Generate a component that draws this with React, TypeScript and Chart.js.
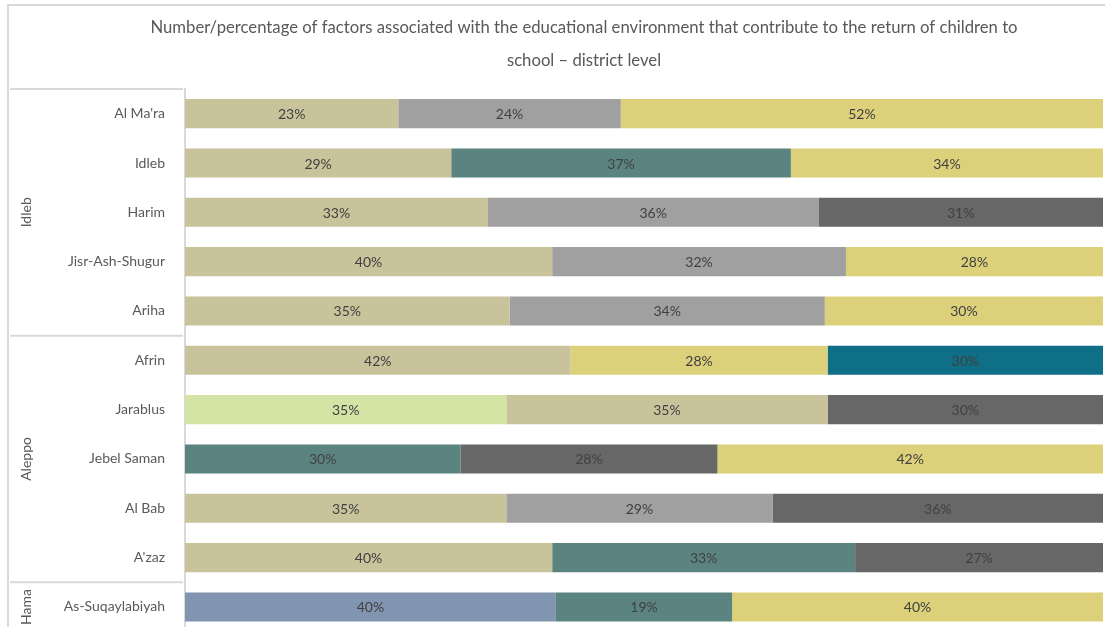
import React, { useEffect, useRef } from "react";
import { Chart, registerables } from "chart.js";

Chart.register(...registerables);

const titleLines = [
  "Number/percentage of factors associated with the educational environment that contribute to the return of children to",
  "school – district level",
];

const districts = [
  "Al Ma'ra",
  "Idleb",
  "Harim",
  "Jisr-Ash-Shugur",
  "Ariha",
  "Afrin",
  "Jarablus",
  "Jebel Saman",
  "Al Bab",
  "A'zaz",
  "As-Suqaylabiyah",
];

const governorates = ["Idleb", "Aleppo", "Hama"];
const governorateSizes = [5, 5, 1];

const seriesNames = [
  "Factor 1",
  "Factor 2",
  "Factor 3",
  "Factor 4",
  "Factor 5",
  "Factor 6",
  "Factor 7",
  "Factor 8",
];
const seriesColors = [
  "#D4E4A5",
  "#8195B0",
  "#C8C39B",
  "#A0A0A0",
  "#5B8480",
  "#676767",
  "#DCD07A",
  "#0F6F86",
];

const s1 = [null, null, null, null, null, null, 35, null, null, null, null];
const s2 = [null, null, null, null, null, null, null, null, null, null, 40];
const s3 = [23, 29, 33, 40, 35, 42, 35, null, 35, 40, null];
const s4 = [24, null, 36, 32, 34, null, null, null, 29, null, null];
const s5 = [null, 37, null, null, null, null, null, 30, null, 33, 19];
const s6 = [null, null, 31, null, null, null, 30, 28, 36, 27, null];
const s7 = [52, 34, null, 28, 30, 28, null, 42, null, null, 40];
const s8 = [null, null, null, null, null, 30, null, null, null, null, null];

const seriesValues: (number | null)[][] = [s1, s2, s3, s4, s5, s6, s7, s8];

const FONT = "Lato, 'Open Sans', sans-serif";
const TEXT = "#595959";
const LINE = "#D9D9D9";

const rowSums = districts.map((_, i) =>
  seriesValues.reduce((a, s) => a + (s[i] ?? 0), 0)
);

const decorPlugin = {
  id: "decor",
  beforeDraw(chart: any) {
    const ctx = chart.ctx as CanvasRenderingContext2D;
    const area = chart.chartArea;
    const yScale = chart.scales.y;
    ctx.save();
    // outer frame
    ctx.strokeStyle = LINE;
    ctx.lineWidth = 2;
    ctx.beginPath();
    ctx.moveTo(8, chart.height + 10);
    ctx.lineTo(8, 5);
    ctx.lineTo(chart.width + 10, 5);
    ctx.stroke();
    // title
    ctx.fillStyle = TEXT;
    ctx.font = `16.7px ${FONT}`;
    ctx.textAlign = "center";
    ctx.textBaseline = "middle";
    ctx.fillText(titleLines[0], 584, 28);
    ctx.fillText(titleLines[1], 584, 61);
    // group lines and labels
    const band = yScale.getPixelForValue(1) - yScale.getPixelForValue(0);
    let start = 0;
    governorates.forEach((g, gi) => {
      const n = governorateSizes[gi];
      const top = yScale.getPixelForValue(start) - band / 2;
      const bottom = yScale.getPixelForValue(start + n - 1) + band / 2;
      ctx.strokeStyle = LINE;
      ctx.lineWidth = 2;
      ctx.beginPath();
      ctx.moveTo(10, top);
      ctx.lineTo(area.left - 2, top);
      ctx.stroke();
      ctx.save();
      ctx.translate(26, (top + Math.min(bottom, chart.height + 40)) / 2);
      ctx.rotate(-Math.PI / 2);
      ctx.fillStyle = TEXT;
      ctx.font = `14px ${FONT}`;
      ctx.textAlign = "center";
      ctx.textBaseline = "middle";
      ctx.fillText(g, 0, 0);
      ctx.restore();
      start += n;
    });
    ctx.restore();
  },
  afterDatasetsDraw(chart: any) {
    const ctx = chart.ctx as CanvasRenderingContext2D;
    ctx.save();
    ctx.font = `14px ${FONT}`;
    ctx.fillStyle = "#404040";
    ctx.textAlign = "center";
    ctx.textBaseline = "middle";
    chart.data.datasets.forEach((ds: any, di: number) => {
      const meta = chart.getDatasetMeta(di);
      meta.data.forEach((bar: any, i: number) => {
        const v = seriesValues[di][i];
        if (v == null) return;
        const { x, base, y } = bar.getProps(["x", "base", "y"], true);
        ctx.fillText(`${v}%`, (x + base) / 2, y + 1);
      });
    });
    ctx.restore();
  },
};

export default function App() {
  const ref = useRef<HTMLCanvasElement>(null);
  useEffect(() => {
    if (!ref.current) return;
    const chart = new Chart(ref.current, {
      type: "bar",
      data: {
        labels: districts,
        datasets: seriesValues.map((s, si) => ({
          label: seriesNames[si],
          data: s.map((v, i) => (v == null ? null : (v / rowSums[i]) * 100)),
          backgroundColor: seriesColors[si],
          borderWidth: 0,
          barPercentage: 0.59,
          categoryPercentage: 1,
        })),
      },
      options: {
        indexAxis: "y",
        animation: false,
        responsive: false,
        maintainAspectRatio: false,
        layout: { padding: { top: 89, bottom: 24, left: 0, right: 2 } },
        plugins: {
          legend: { display: false },
          title: { display: false },
          tooltip: { enabled: false },
        },
        scales: {
          x: { stacked: true, min: 0, max: 100, display: false },
          y: {
            stacked: true,
            grid: { display: false, drawTicks: false },
            border: { color: LINE, width: 2 },
            ticks: {
              padding: 20,
              color: TEXT,
              font: { family: FONT, size: 14 },
            },
            afterFit(scale: any) {
              scale.width = 185;
            },
          },
        },
      },
      plugins: [decorPlugin],
    });
    return () => chart.destroy();
  }, []);
  return (
    <div style={{ position: "fixed", left: 0, top: 0, width: 1105, height: 660, background: "#fff" }}>
      <canvas ref={ref} width={1105} height={660} style={{ display: "block" }} />
    </div>
  );
}
